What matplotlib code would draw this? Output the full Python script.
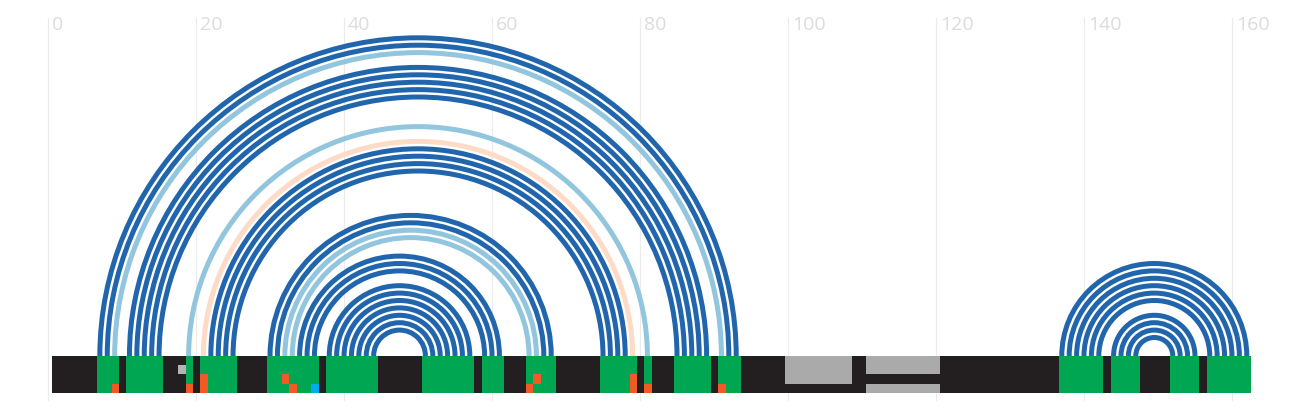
import numpy as np
import matplotlib.pyplot as plt
from matplotlib.patches import Arc
from matplotlib.colors import ListedColormap

plt.rcParams['font.family'] = ['Open Sans', 'DejaVu Sans']

n_bases = 162
ticks = [0, 20, 40, 60, 80, 100, 120, 140, 160]

# base pairs (i, j), grouped by arc colour
pairs_dark = [(7, 93), (8, 92), (11, 89), (12, 88), (13, 87), (14, 86), (15, 85),
              (22, 78), (23, 77), (24, 76), (25, 75),
              (30, 68), (31, 67), (34, 61), (35, 60), (36, 59),
              (38, 57), (39, 56), (40, 55), (41, 54), (42, 53), (43, 52), (44, 51),
              (137, 162), (138, 161), (139, 160), (140, 159), (141, 158), (142, 157),
              (144, 155), (145, 154), (146, 153), (147, 152)]
pairs_light = [(9, 91), (19, 81), (32, 66), (33, 65)]
pairs_peach = [(21, 79)]

# annotation track: (position, row, code)  codes: 2 orange, 4 light gray, 5 cyan
marks = [(9, 3, 2), (18, 1, 4), (19, 3, 2), (21, 2, 2), (21, 3, 2),
         (32, 2, 2), (33, 3, 2), (36, 3, 5), (65, 3, 2), (66, 2, 2),
         (79, 2, 2), (79, 3, 2), (81, 3, 2), (91, 3, 2)]
# gray spans: (start, end, rows)
gray_spans = [(100, 108, [0, 1, 2]), (111, 120, [0, 1, 3])]

track_colors = ['#231f20', '#00a651', '#f15a24', '#aaaaaa', '#b3b3b3', '#00aeef']

# build the 4 x n track
track = np.zeros((4, n_bases), dtype=int)
for pairs in (pairs_dark, pairs_light, pairs_peach):
    for i, j in pairs:
        track[:, i - 1] = 1
        track[:, j - 1] = 1
for s, e, rows in gray_spans:
    for r in rows:
        track[r, s - 1:e] = 3
for p, r, c in marks:
    track[r, p - 1] = c

fig = plt.figure(figsize=(12.96, 4.16), dpi=100)
ax = fig.add_axes([0, 0, 1, 1])
ax.set_xlim(-6.49, 168.65)
ax.set_ylim(-8.11, 48.11)
ax.set_aspect('equal')
ax.axis('off')

# grid and labels
for t in ticks:
    ax.plot([t, t], [-5.95, 45.7], color='#ebebeb', lw=0.8, zorder=0)
    ax.text(t + 0.55, 44.7, str(t), ha='left', va='center',
            fontsize=14, color='#dcdcdc')

# arcs
for pairs, col in ((pairs_dark, '#2166ac'), (pairs_light, '#92c5de'), (pairs_peach, '#fddbc7')):
    for i, j in pairs:
        ax.add_patch(Arc(((i + j) / 2, 0), j - i, j - i, theta1=0, theta2=180,
                         color=col, lw=3.6, zorder=2))

xe = np.arange(0.5, n_bases + 1) + 0.1
ye = np.linspace(0, -5, 5)
ax.pcolormesh(xe, ye, track, cmap=ListedColormap(track_colors), vmin=-0.5, vmax=5.5,
              edgecolors='none', zorder=3)

fig.savefig('out.png', dpi=100)
